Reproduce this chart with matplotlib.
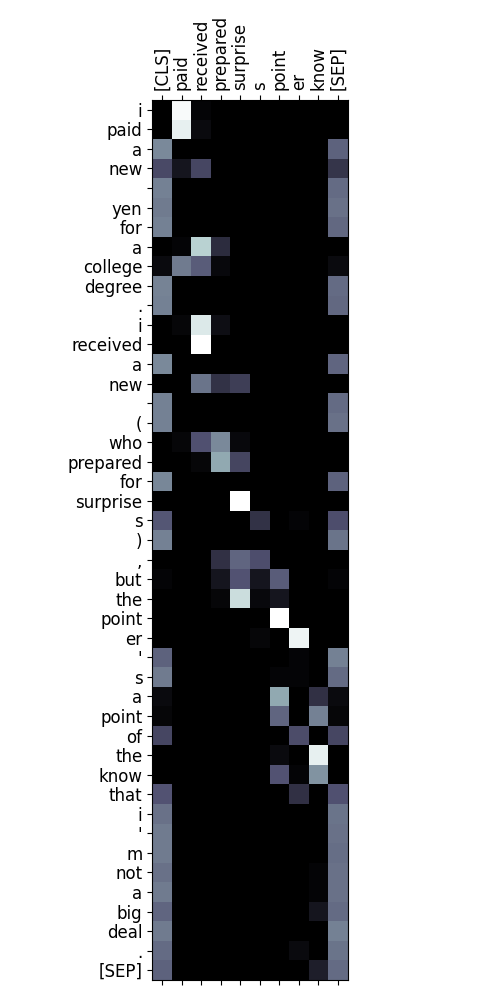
import numpy as np
import matplotlib
matplotlib.use("Agg")
import matplotlib.pyplot as plt

# key tokens (columns) and query tokens (rows)
col_tokens = ["[CLS]", "paid", "received", "prepared", "surprise", "s", "point", "er", "know", "[SEP]"]
row_tokens = ["i", "paid", "a", "new", "", "yen", "for", "a", "college", "degree", ".",
              "i", "received", "a", "new", "", "(", "who", "prepared", "for", "surprise", "s",
              ")", ",", "but", "the", "point", "er", "'", "s", "a", "point", "of", "the",
              "know", "that", "i", "'", "m", "not", "a", "big", "deal", ".", "[SEP]"]

# attention weights, one row per query token
weights = [
    [0.00, 0.98, 0.02, 0, 0, 0, 0, 0, 0, 0],
    [0.00, 0.93, 0.05, 0, 0, 0, 0, 0, 0, 0],
    [0.55, 0, 0, 0, 0, 0, 0, 0, 0, 0.42],
    [0.33, 0.10, 0.32, 0, 0, 0, 0, 0, 0, 0.24],
    [0.52, 0, 0, 0, 0, 0, 0, 0, 0, 0.45],
    [0.50, 0, 0, 0, 0, 0, 0, 0, 0, 0.47],
    [0.52, 0, 0, 0, 0, 0, 0, 0, 0, 0.44],
    [0.00, 0.02, 0.80, 0.20, 0, 0, 0, 0, 0, 0],
    [0.05, 0.50, 0.40, 0.04, 0, 0, 0, 0, 0, 0.05],
    [0.53, 0, 0, 0, 0, 0, 0, 0, 0, 0.45],
    [0.52, 0, 0, 0, 0, 0, 0, 0, 0, 0.44],
    [0.00, 0.03, 0.90, 0.07, 0, 0, 0, 0, 0, 0],
    [0.00, 0, 1.00, 0, 0, 0, 0, 0, 0, 0],
    [0.55, 0, 0, 0, 0, 0, 0, 0, 0, 0.43],
    [0.00, 0, 0.48, 0.23, 0.28, 0, 0, 0, 0, 0],
    [0.52, 0, 0, 0, 0, 0, 0, 0, 0, 0.45],
    [0.52, 0, 0, 0, 0, 0, 0, 0, 0, 0.47],
    [0.00, 0.03, 0.36, 0.55, 0.04, 0, 0, 0, 0, 0],
    [0.00, 0, 0.03, 0.65, 0.31, 0, 0, 0, 0, 0],
    [0.54, 0, 0, 0, 0, 0, 0, 0, 0, 0.42],
    [0.00, 0, 0, 0, 1.00, 0, 0, 0, 0, 0],
    [0.38, 0, 0, 0, 0, 0.23, 0, 0.02, 0, 0.35],
    [0.52, 0, 0, 0, 0, 0, 0, 0, 0, 0.48],
    [0.00, 0, 0, 0.22, 0.43, 0.35, 0, 0, 0, 0],
    [0.02, 0, 0, 0.10, 0.37, 0.10, 0.40, 0, 0, 0.02],
    [0.00, 0, 0, 0.03, 0.85, 0.04, 0.10, 0, 0, 0],
    [0.00, 0, 0, 0, 0, 0, 1.00, 0, 0, 0],
    [0.00, 0, 0, 0, 0, 0.03, 0, 0.95, 0, 0],
    [0.42, 0, 0, 0, 0, 0, 0, 0.02, 0, 0.52],
    [0.50, 0, 0, 0, 0, 0, 0.02, 0.02, 0, 0.45],
    [0.05, 0, 0, 0, 0, 0, 0.65, 0, 0.22, 0.05],
    [0.03, 0, 0, 0, 0, 0, 0.43, 0, 0.52, 0.03],
    [0.32, 0, 0, 0, 0, 0, 0, 0.34, 0, 0.32],
    [0.00, 0, 0, 0, 0, 0, 0.05, 0, 0.93, 0],
    [0.00, 0, 0, 0, 0, 0, 0.37, 0.02, 0.58, 0],
    [0.37, 0, 0, 0, 0, 0, 0, 0.22, 0, 0.36],
    [0.47, 0, 0, 0, 0, 0, 0, 0, 0, 0.48],
    [0.50, 0, 0, 0, 0, 0, 0, 0, 0, 0.47],
    [0.50, 0, 0, 0, 0, 0, 0, 0, 0, 0.46],
    [0.47, 0, 0, 0, 0, 0, 0, 0, 0.02, 0.47],
    [0.50, 0, 0, 0, 0, 0, 0, 0, 0.02, 0.47],
    [0.43, 0, 0, 0, 0, 0, 0, 0, 0.10, 0.45],
    [0.50, 0, 0, 0, 0, 0, 0, 0, 0, 0.52],
    [0.45, 0, 0, 0, 0, 0, 0, 0.05, 0, 0.48],
    [0.42, 0, 0, 0, 0, 0, 0, 0, 0.14, 0.45],
]

att = np.array(weights)

fig = plt.figure(figsize=(5, 10), dpi=100)
ax = fig.add_axes([0.304, 0.02, 0.392, 0.88])
ax.imshow(att, cmap="bone", vmin=0, vmax=1, aspect="equal", interpolation="nearest")

ax.set_xticks(range(len(col_tokens)))
ax.set_xticklabels(col_tokens, rotation=90, fontsize=12)
ax.set_yticks(range(len(row_tokens)))
ax.set_yticklabels(row_tokens, fontsize=12)
ax.tick_params(top=True, labeltop=True, bottom=True, labelbottom=False)

fig.savefig("out.png")
